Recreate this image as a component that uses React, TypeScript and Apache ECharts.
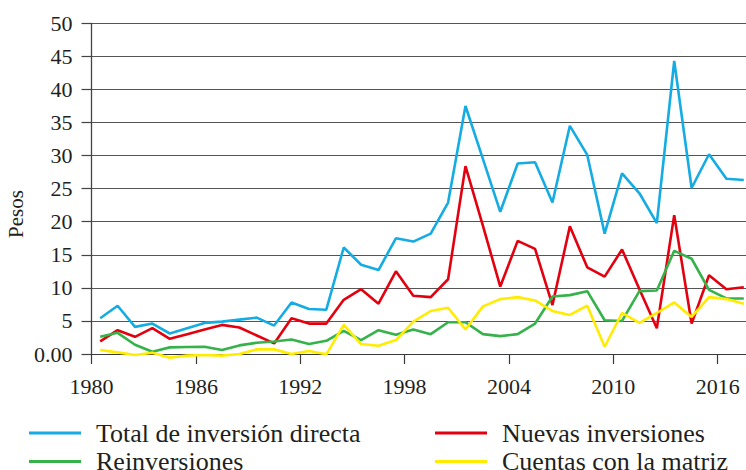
import React, { useEffect, useRef } from 'react';
import * as echarts from 'echarts';

const years = [
  '1980', '1981', '1982', '1983', '1984', '1985', '1986', '1987', '1988', '1989',
  '1990', '1991', '1992', '1993', '1994', '1995', '1996', '1997', '1998', '1999',
  '2000', '2001', '2002', '2003', '2004', '2005', '2006', '2007', '2008', '2009',
  '2010', '2011', '2012', '2013', '2014', '2015', '2016', '2017',
];

const totalInversion = [
  5.4, 7.3, 4.1, 4.6, 3.1, 3.9, 4.7, 4.9, 5.2, 5.5,
  4.3, 7.8, 6.8, 6.7, 16.1, 13.5, 12.7, 17.5, 17.0, 18.2,
  22.9, 37.5, 29.5, 21.5, 28.8, 29.0, 22.9, 34.5, 30.1, 18.2,
  27.3, 24.3, 19.8, 44.3, 25.1, 30.2, 26.5, 26.3,
];

const nuevasInversiones = [
  1.9, 3.6, 2.6, 3.9, 2.3, 3.0, 3.7, 4.4, 4.0, 2.8,
  1.6, 5.4, 4.6, 4.6, 8.2, 9.8, 7.6, 12.5, 8.8, 8.6,
  11.3, 28.4, 19.4, 10.2, 17.1, 15.9, 7.4, 19.3, 13.1, 11.7,
  15.8, 9.8, 3.9, 21.0, 4.6, 11.9, 9.8, 10.1,
];

const reinversiones = [
  2.6, 3.2, 1.4, 0.35, 1.0, 1.05, 1.1, 0.6, 1.3, 1.7,
  1.9, 2.2, 1.5, 2.0, 3.5, 2.1, 3.6, 2.9, 3.7, 3.0,
  4.8, 4.8, 3.0, 2.7, 3.0, 4.6, 8.7, 8.9, 9.5, 5.1,
  5.0, 9.5, 9.6, 15.6, 14.4, 9.7, 8.4, 8.4,
];

const cuentasMatriz = [
  0.6, 0.25, -0.15, 0.2, -0.55, -0.25, -0.15, -0.25, 0.0, 0.7,
  0.7, 0.0, 0.45, -0.05, 4.4, 1.5, 1.25, 2.1, 4.9, 6.5,
  7.0, 3.7, 7.2, 8.3, 8.6, 8.1, 6.5, 5.9, 7.3, 1.1,
  6.2, 4.7, 6.2, 7.8, 5.6, 8.6, 8.3, 7.6,
];

const seriesNames = [
  'Total de inversión directa',
  'Nuevas inversiones',
  'Reinversiones',
  'Cuentas con la matriz',
];
const seriesColors = ['#14ACE3', '#E3000F', '#35B24A', '#FFEC00'];
const yAxisTitle = 'Pesos';

const FONT = "'Liberation Serif', 'Times New Roman', serif";
const TEXT = '#231F20';

export default function App() {
  const ref = useRef<HTMLDivElement>(null);

  useEffect(() => {
    if (!ref.current) return;
    const chart = echarts.init(ref.current, null, { renderer: 'svg' });
    const values = [totalInversion, nuevasInversiones, reinversiones, cuentasMatriz];
    const legendText = {
      fontSize: 26,
      fontFamily: FONT,
      color: TEXT,
      lineHeight: 26,
      padding: [0, 0, 0, 10],
    };
    chart.setOption({
      animation: false,
      backgroundColor: '#ffffff',
      textStyle: { fontFamily: FONT, color: TEXT },
      grid: {
        left: 91.5,
        top: 23.3,
        bottom: 116,
        right: -6.5,
        containLabel: false,
        outerBoundsMode: 'none',
      },
      xAxis: {
        type: 'category',
        data: years,
        boundaryGap: true,
        axisLine: { show: true, lineStyle: { color: '#3a3a3a', width: 1.2 } },
        axisTick: { show: true, interval: 5, length: 10, lineStyle: { color: '#3a3a3a', width: 1.2 } },
        axisLabel: {
          interval: 5,
          margin: 21,
          fontSize: 22,
          fontFamily: FONT,
          color: TEXT,
          hideOverlap: false,
          formatter: (v: string) => `{t|${v}}`,
          rich: {
            t: {
              fontSize: 22,
              fontFamily: FONT,
              color: TEXT,
              padding: [0, 17.4, 0, 0],
            },
          },
        },
        splitLine: { show: false },
      },
      yAxis: {
        type: 'value',
        min: 0,
        max: 50,
        interval: 5,
        axisLine: { show: true, lineStyle: { color: '#444', width: 1.3 } },
        axisTick: { show: true, length: 10, lineStyle: { color: '#444', width: 1.2 } },
        axisLabel: {
          margin: 19,
          fontSize: 22,
          fontFamily: FONT,
          color: TEXT,
          formatter: (v: number) => (v === 0 ? '0.00' : String(v)),
        },
        splitLine: { show: true, lineStyle: { color: '#555', width: 1.1 } },
      },
      legend: [
        {
          data: [seriesNames[0], seriesNames[2]],
          orient: 'vertical',
          left: 29,
          top: 420,
          height: 80,
          padding: 0,
          itemWidth: 52,
          itemHeight: 3,
          itemGap: 2.4,
          icon: 'rect',
          textStyle: legendText,
        },
        {
          data: [seriesNames[1], seriesNames[3]],
          orient: 'vertical',
          left: 435,
          top: 420,
          height: 80,
          padding: 0,
          itemWidth: 52,
          itemHeight: 3,
          itemGap: 2.4,
          icon: 'rect',
          textStyle: legendText,
        },
      ],
      graphic: [
        {
          type: 'text',
          x: 16,
          y: 214,
          rotation: Math.PI / 2,
          style: {
            text: yAxisTitle,
            fontSize: 21,
            fontFamily: FONT,
            fill: TEXT,
            textAlign: 'center',
            textVerticalAlign: 'middle',
          },
        },
      ],
      series: seriesNames.map((name, i) => ({
        name,
        type: 'line',
        data: values[i],
        symbol: 'none',
        showSymbol: false,
        clip: false,
        color: seriesColors[i],
        lineStyle: { color: seriesColors[i], width: 2.6 },
      })),
    });
    return () => chart.dispose();
  }, []);

  return (
    <div
      ref={ref}
      style={{ position: 'absolute', left: 0, top: 0, width: 746, height: 470, background: '#fff' }}
    />
  );
}
